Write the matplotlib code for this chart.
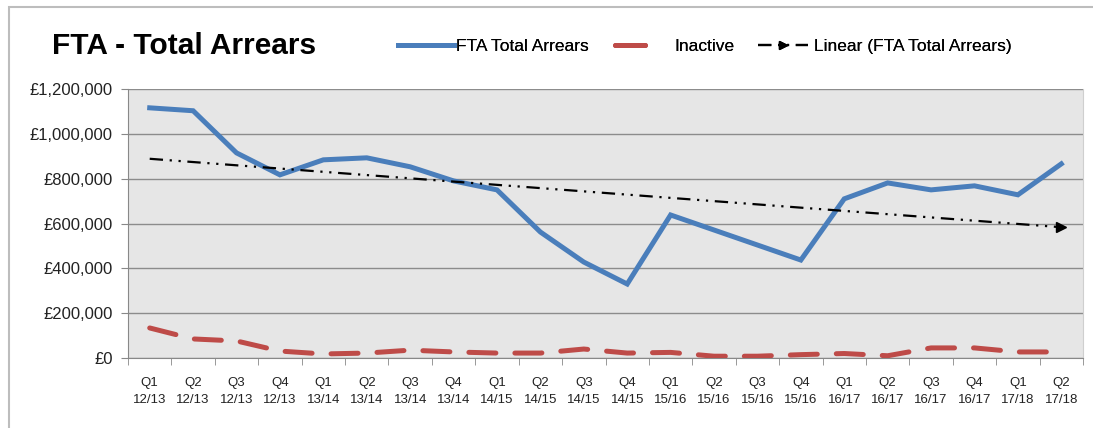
import numpy as np
import matplotlib
matplotlib.use("Agg")
import matplotlib.pyplot as plt
from matplotlib.lines import Line2D
from matplotlib.patches import Rectangle
from matplotlib.ticker import FuncFormatter

plt.rcParams['font.family'] = ['Liberation Sans', 'DejaVu Sans']

quarters = ['Q1', 'Q2', 'Q3', 'Q4', 'Q1', 'Q2', 'Q3', 'Q4', 'Q1', 'Q2', 'Q3', 'Q4',
            'Q1', 'Q2', 'Q3', 'Q4', 'Q1', 'Q2', 'Q3', 'Q4', 'Q1', 'Q2']
years = ['12/13'] * 4 + ['13/14'] * 4 + ['14/15'] * 4 + ['15/16'] * 4 + ['16/17'] * 4 + ['17/18'] * 2

total_arrears = [1116000, 1103000, 915000, 817000, 884000, 893000, 853000, 790000,
                 750000, 562000, 428000, 330000, 638000, 571000, 504000, 437000,
                 710000, 781000, 750000, 768000, 728000, 866000]
inactive = [134000, 85000, 76000, 31000, 18000, 22000, 35000, 27000,
            22000, 22000, 40000, 22000, 25000, 8000, 8000, 15000,
            20000, 10000, 45000, 45000, 27000, 27000]

labels = [q + '\n' + y for q, y in zip(quarters, years)]
x = np.arange(len(labels))

# linear trendline like Excel
coef = np.polyfit(x, total_arrears, 1)
trend = np.polyval(coef, x)

fig = plt.figure(figsize=(10.93, 4.28), dpi=100)
ax = fig.add_axes([128 / 1093, 1 - 358 / 428, (1083 - 128) / 1093, (358 - 89) / 428])
ax.set_facecolor('#E6E6E6')

blue = '#4A7EBB'
red = '#BE4B48'
trend_dash = (6, 3, 1, 3, 1, 3)

ax.plot(x, total_arrears, color=blue, lw=3.6, solid_joinstyle='miter', zorder=3)
ax.plot(x, inactive, color=red, lw=3.6, dashes=(5.4, 3.8), dash_capstyle='round', zorder=3)
ax.plot(x, trend, color='black', lw=1.6, dashes=trend_dash,
        marker='>', markevery=[len(x) - 1], markersize=6.5, zorder=4)

ax.set_xlim(-0.5, len(x) - 0.5)
ax.set_ylim(0, 1200000)
ax.set_yticks(np.arange(0, 1200001, 200000))
ax.yaxis.set_major_formatter(FuncFormatter(lambda v, p: '£{:,.0f}'.format(v)))
ax.grid(axis='y', color='#8C8C8C', lw=1)
ax.set_axisbelow(True)

ax.set_xticks(x)
ax.set_xticklabels(labels, fontsize=9.5, color='#222222', linespacing=1.5)
ax.set_xticks(np.arange(-0.5, len(x), 1), minor=True)
ax.tick_params(axis='x', which='major', length=0, pad=14)
ax.tick_params(axis='x', which='minor', length=5, color='#888888')
ax.tick_params(axis='y', length=5, color='#888888', labelsize=12, labelcolor='#222222', pad=6)

for s in ['left', 'bottom']:
    ax.spines[s].set_color('#888888')
ax.spines['top'].set_visible(False)
ax.spines['right'].set_color('#CFCFCF')

fig.text(52 / 1093, 1 - 46 / 428, 'FTA - Total Arrears', fontsize=21.5, fontweight='bold', va='center')

# legend entries, each with its own handle length like the Excel legend
leg_y = 1 - 46 / 428
entries = [
    (Line2D([], [], color=blue, lw=3.6), 'FTA Total Arrears', 398, 3.2, 0.15),
    (Line2D([], [], color=red, lw=3.6, solid_capstyle='round'), 'Inactive', 615, 1.7, 1.7),
    (Line2D([], [], color='black', lw=1.6, dashes=trend_dash, marker='>', markersize=6),
     'Linear (FTA Total Arrears)', 758, 2.9, 0.3),
]
for h, lab, left, hl, tp in entries:
    leg = fig.legend([h], [lab], loc='center left', bbox_to_anchor=(left / 1093, leg_y),
                     frameon=False, fontsize=12.5, handlelength=hl, handletextpad=tp,
                     borderaxespad=0, borderpad=0)
    fig.add_artist(leg)

# outer chart frame
fig.patches.append(Rectangle((9 / 1093, -0.1), 1.2, 1 - 7 / 428 + 0.1, transform=fig.transFigure,
                             fill=False, edgecolor='#BDBDBD', lw=1.5))

fig.savefig('out.png', dpi=100)
